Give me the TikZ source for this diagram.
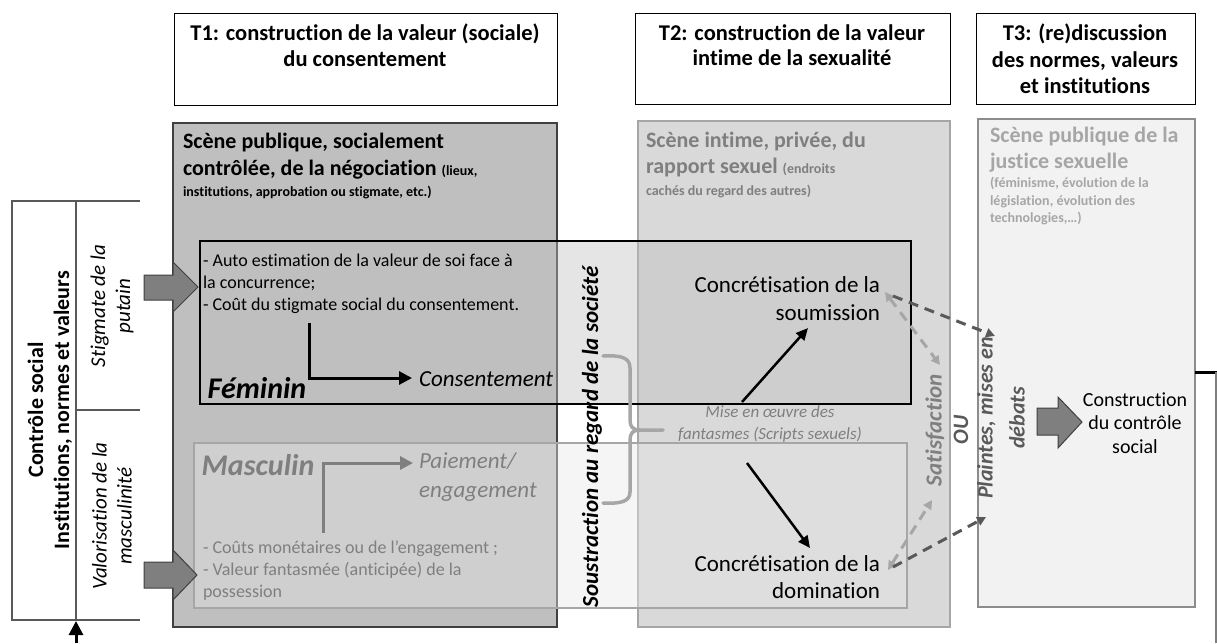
\documentclass[tikz,border=0pt]{standalone}
\usepackage{fontspec}
\setmainfont{Carlito}[Ligatures=NoCommon]
\usetikzlibrary{arrows.meta}
\definecolor{scAfill}{HTML}{BFBFBF}
\definecolor{scAdraw}{HTML}{404040}
\definecolor{scBfill}{HTML}{D9D9D9}
\definecolor{scBdraw}{HTML}{A6A6A6}
\definecolor{scCfill}{HTML}{F2F2F2}
\definecolor{scCdraw}{HTML}{8C8C8C}
\definecolor{masfill}{HTML}{E7E7E7}
\definecolor{gDark}{HTML}{595959}
\definecolor{gMid}{HTML}{7F7F7F}
\definecolor{gLight}{HTML}{A6A6A6}
\newcommand\myfs[2]{\fontsize{#1}{#2}\selectfont}
\begin{document}
\begin{tikzpicture}[x=1pt,y=-1pt,
  box/.style={draw, anchor=north west, inner sep=0pt, outer sep=0pt},
  txt/.style={inner sep=0pt, outer sep=0pt},
  blk/.style={fill=gMid, draw=scAdraw, line width=1pt, line join=miter},
  dsh/.style={dash pattern=on 10pt off 7pt, line width=3pt},
  ctrl/.style={draw=gDark, line width=1.5pt},
  tip/.style={-{Triangle[length=13pt,width=13pt]}},
  dtip/.style={-{Triangle[length=9pt,width=9pt]}},
  ddtip/.style={{Triangle[length=9pt,width=9pt]}-{Triangle[length=9pt,width=9pt]}},
]
\useasboundingbox (0,0) rectangle (1217,643);

% ---- title boxes
\node[box, line width=1pt, minimum width=383pt, minimum height=92pt] (t1) at (174,13) {};
\node[box, line width=1pt, minimum width=315pt, minimum height=91pt] (t2) at (635,13) {};
\node[box, line width=1pt, minimum width=219pt, minimum height=91pt] (t3) at (976,13) {};
\node[txt, align=center, font=\myfs{22.5}{25.5}\bfseries] (t1t) at (365,45) {T1: construction de la valeur (sociale)\\du consentement};
\node[txt, align=center, font=\myfs{22.5}{25.5}\bfseries] (t2t) at (792,45) {T2: construction de la valeur\\intime de la sexualité};
\node[txt, align=center, font=\myfs{22.5}{26.5}\bfseries] (t3t) at (1085,59) {T3: (re)discussion\\des normes, valeurs\\et institutions};

% ---- scenes
\node[box, fill=scAfill, draw=scAdraw, line width=1.2pt, minimum width=384pt, minimum height=504pt] (sc1) at (173,123) {};
\node[box, fill=scBfill, draw=scBdraw, line width=1.2pt, minimum width=312pt, minimum height=506pt] (sc2) at (638,121) {};
\node[box, fill=scCfill, draw=scCdraw, line width=1.2pt, minimum width=217pt, minimum height=488pt] (sc3) at (978,119) {};

\node[txt, anchor=west, align=left, font=\myfs{22}{27}\bfseries] (h1) at (183,156) {Scène publique, socialement\\contrôlée, de la négociation {\myfs{14}{15}(lieux,}};
\node[txt, anchor=west, font=\myfs{14}{15}\bfseries] (h1s) at (183,192) {institutions, approbation ou stigmate, etc.)};
\node[txt, anchor=west, align=left, font=\myfs{22}{26}\bfseries, text=gMid] (h2) at (646,155) {Scène intime, privée, du\\rapport sexuel {\myfs{14}{15}(endroits}};
\node[txt, anchor=west, font=\myfs{14}{15}\bfseries, text=gMid] (h2s) at (646,191) {cachés du regard des autres)};
\node[txt, anchor=west, align=left, font=\myfs{22}{26}\bfseries, text=gLight] (h3) at (990,150) {Scène publique de la\\justice sexuelle};
\node[txt, anchor=west, align=left, font=\myfs{14}{17.5}\bfseries, text=gLight] (h3s) at (990,201) {(féminisme, évolution de la\\législation, évolution des\\technologies,…)};

% ---- overlay boxes
\node[box, draw=black, line width=1.2pt, fill=scAfill, fill opacity=0.4, minimum width=711pt, minimum height=163pt] (fem) at (200,241) {};
\node[box, draw=scBdraw, line width=1.2pt, fill=masfill, fill opacity=0.42, minimum width=713pt, minimum height=165pt] (mas) at (194,443) {};

% ---- feminin
\node[txt, anchor=west, align=left, font=\myfs{18}{22}] (femtxt) at (203,284) {- Auto estimation de la valeur de soi face à\\la concurrence;\\- Coût du stigmate social du consentement.};
\node[txt, font=\myfs{30}{36}\bfseries\itshape] (femlbl) at (257,388) {Féminin};
\node[txt, anchor=west, font=\myfs{23}{27}\itshape] (cons) at (419,379) {Consentement};
\coordinate (femstart) at (309,323);
\coordinate (consin) at (412,378);
\draw[line width=3pt, tip] (femstart) |- (consin);

% ---- masculin
\node[txt, font=\myfs{30}{36}\bfseries\itshape, text=gMid] (maslbl) at (258,465) {Masculin};
\node[txt, anchor=west, align=left, font=\myfs{23}{29}\itshape, text=gMid] (pay) at (419,477) {Paiement/\\engagement};
\coordinate (masstart) at (323,533);
\coordinate (payin) at (413,463);
\draw[line width=3pt, gMid, tip] (masstart) |- (payin);
\node[txt, anchor=west, align=left, font=\myfs{18}{22}, text=gMid] (mastxt) at (203,571) {- Coûts monétaires ou de l’engagement ;\\- Valeur fantasmée (anticipée) de la\\possession};

% ---- soustraction + brace
\node[txt, rotate=90, font=\myfs{23}{26}\bfseries\itshape] (sous) at (592,437) {Soustraction au regard de la société};
\node[txt, align=center, font=\myfs{17}{22}\itshape, text=gMid] (mise) at (770,424) {Mise en œuvre des\\fantasmes (Scripts sexuels)};
\coordinate (brtop) at (603,356);
\coordinate (brbot) at (603,503);
\coordinate (brtip) at (663,430);
\draw[gLight, line width=3.5pt, line cap=round, line join=round]
  (brtop) .. controls (622,355) and (630,358) .. (630,368) -- (630,420)
  .. controls (630,427) and (633,430) .. (640,430) -- (brtip);
\draw[gLight, line width=3.5pt, line cap=round, line join=round]
  (brbot) .. controls (622,504) and (630,501) .. (630,492) -- (630,440)
  .. controls (630,433) and (633,430) .. (640,430);

% ---- concretisation
\node[txt, anchor=east, align=right, font=\myfs{23}{28}] (soum) at (880,299) {Concrétisation de la\\soumission};
\node[txt, anchor=east, align=right, font=\myfs{23}{27}] (domi) at (880,577) {Concrétisation de la\\domination};
\coordinate (upfrom) at (742,402);
\coordinate (upto) at (808,328);
\coordinate (dnfrom) at (747,463);
\coordinate (dnto) at (810,548);
\draw[line width=2.5pt, -{Triangle[length=12pt,width=11pt]}] (upfrom) -- (upto);
\draw[line width=2.5pt, -{Triangle[length=12pt,width=11pt]}] (dnfrom) -- (dnto);

% ---- satisfaction / ou / plaintes
\node[txt, rotate=90, font=\myfs{23}{26}\bfseries\itshape, text=gMid] (satis) at (935,430) {Satisfaction};
\node[txt, rotate=90, font=\myfs{22}{26}\bfseries\itshape, text=gDark] (ou) at (961,430) {OU};
\node[txt, rotate=90, align=center, font=\myfs{22}{32}\bfseries\itshape, text=gDark] (plaintes) at (1001,418) {Plaintes, mises en\\débats};

\coordinate (sa1) at (885,292);
\coordinate (sa2) at (940,365);
\coordinate (sb1) at (888,570);
\coordinate (sb2) at (932,500);
\coordinate (pa1) at (893,296);
\coordinate (pa2) at (995,336);
\coordinate (pb1) at (893,567);
\coordinate (pb2) at (986,517);
\draw[dsh, gLight, ddtip] (sa1) -- (sa2);
\draw[dsh, gLight, ddtip] (sb1) -- (sb2);
\draw[dsh, gDark, dtip] (pa1) -- (pa2);
\draw[dsh, gDark, dtip] (pb1) -- (pb2);

% ---- construction du controle social
\draw[blk] (1037,408) -- (1058,408) -- (1058,397) -- (1082,422) -- (1058,448) -- (1058,435) -- (1037,435) -- cycle;
\node[txt, align=center, font=\myfs{20}{23.5}] (constr) at (1135,423) {Construction\\du contrôle\\social};

% ---- left control box
\coordinate (cA) at (140,201);
\coordinate (cB) at (12,201);
\coordinate (cC) at (12,620);
\coordinate (cD) at (140,620);
\draw[ctrl] (cA) -- (cB) -- (cC) -- (cD);
\draw[ctrl] (76,201) -- (76,620);
\draw[ctrl] (76,410) -- (140,410);
\node[txt, rotate=90, align=center, font=\myfs{22}{26}\bfseries] (ctrltxt) at (50,410) {Contrôle social\\Institutions, normes et valeurs};
\node[txt, rotate=90, align=center, font=\myfs{21}{25}\itshape] (stig) at (112,306) {Stigmate de la\\putain};
\node[txt, rotate=90, align=center, font=\myfs{21}{25}\itshape] (valo) at (112,516) {Valorisation de la\\masculinité};

\draw[blk] (144,275) -- (173,275) -- (173,262) -- (198,287) -- (173,312) -- (173,300) -- (144,300) -- cycle;
\draw[blk] (144,562) -- (173,562) -- (173,550) -- (197,575) -- (173,600) -- (173,588) -- (144,588) -- cycle;

% ---- feedback loop
\coordinate (loopbot) at (76,643);
\coordinate (loopin) at (76,621);
\draw[line width=3pt, -{Triangle[length=14pt,width=14pt]}] (loopbot) -- (loopin);
\coordinate (rA) at (1195,372);
\coordinate (rB) at (1217,372);
\coordinate (rC) at (1216,372);
\coordinate (rD) at (1216,643);
\draw[line width=3pt] (rA) -- (rB);
\draw[gMid, line width=1.2pt] (rC) -- (rD);
\end{tikzpicture}
\end{document}
